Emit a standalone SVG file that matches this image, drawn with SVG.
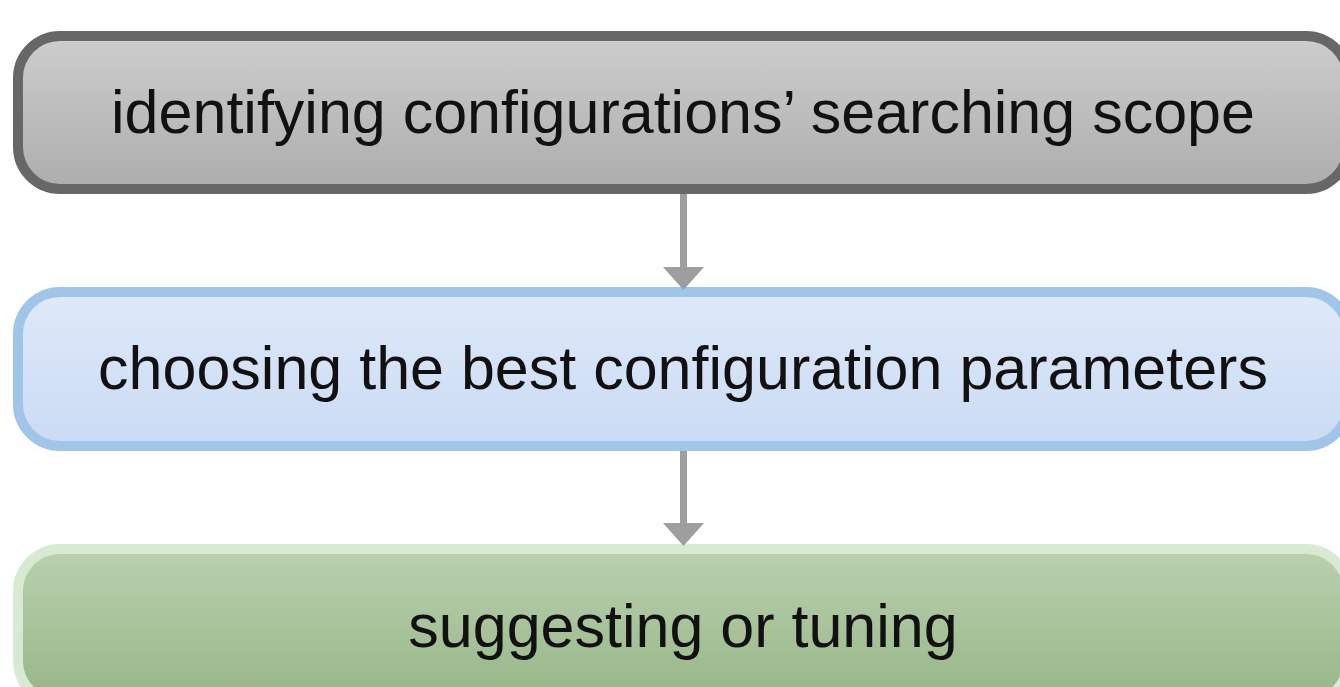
<svg xmlns="http://www.w3.org/2000/svg" width="1340" height="687" viewBox="0 0 1340 687">
<defs>
<linearGradient id="g1" x1="0" y1="0" x2="0" y2="1"><stop offset="0" stop-color="#cdcdcd"/><stop offset="1" stop-color="#adadad"/></linearGradient>
<linearGradient id="g2" x1="0" y1="0" x2="0" y2="1"><stop offset="0" stop-color="#dfe9f9"/><stop offset="1" stop-color="#cadbf4"/></linearGradient>
<linearGradient id="g3" x1="0" y1="0" x2="0" y2="1"><stop offset="0" stop-color="#bbd0af"/><stop offset="1" stop-color="#96b686"/></linearGradient>
<style>
.box{stroke-width:10}
.lbl{font-family:"Liberation Sans",Arial,sans-serif;font-size:61px;fill:#111;text-anchor:middle}
.conn{stroke:#9e9e9e;stroke-width:7;fill:none}
.head{fill:#9e9e9e}
</style>
</defs>
<rect width="1340" height="687" fill="#ffffff"/>
<g id="node1">
<rect class="box" x="18" y="36" width="1330" height="153" rx="42" fill="url(#g1)" stroke="#676767"/>
<text class="lbl" x="683" y="133">identifying configurations’ searching scope</text>
</g>
<g id="node2">
<rect class="box" x="18" y="292" width="1330" height="154" rx="42" fill="url(#g2)" stroke="#9fc5e8"/>
<text class="lbl" x="683" y="389">choosing the best configuration parameters</text>
</g>
<g id="node3">
<rect class="box" x="18" y="549" width="1330" height="154" rx="42" fill="url(#g3)" stroke="#d9ead3"/>
<text class="lbl" x="683" y="647">suggesting or tuning</text>
</g>
<g id="connectors">
<line class="conn" x1="683.5" y1="194" x2="683.5" y2="268"/>
<polygon class="head" points="663,267 704,267 683.5,290"/>
<line class="conn" x1="683.5" y1="451" x2="683.5" y2="524"/>
<polygon class="head" points="663,523 704,523 683.5,546"/>
</g>
</svg>
